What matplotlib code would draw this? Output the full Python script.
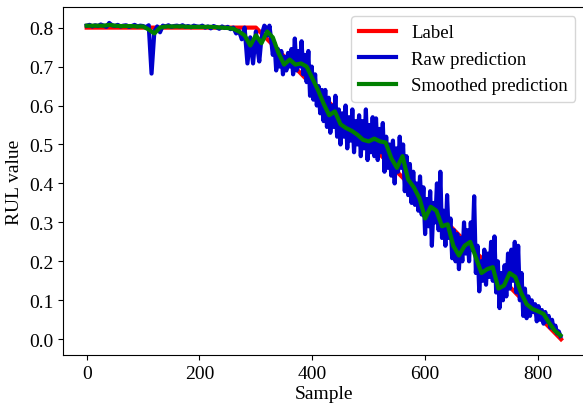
import numpy as np
import matplotlib
matplotlib.use("Agg")
import matplotlib.pyplot as plt

plt.rcParams['font.family'] = ['Liberation Serif', 'DejaVu Serif']

# piecewise RUL label (vertices)
label_x = [0, 300, 841]
label_y = [0.80, 0.80, 0.0]

# raw network output: every 5 samples on the plateau, every 3 samples afterwards
raw_x = list(range(0, 300, 5)) + list(range(300, 841, 3))
raw_y = [
    # plateau, 0 - 295
    0.805, 0.807, 0.803, 0.806, 0.804, 0.808, 0.805, 0.802, 0.812, 0.806, 0.804, 0.807, 0.803, 0.805, 0.806, 0.802, 0.804, 0.807, 0.803, 0.805,
    0.804, 0.801, 0.806, 0.682, 0.790, 0.803, 0.788, 0.805, 0.803, 0.806, 0.802, 0.804, 0.805, 0.803, 0.806, 0.802, 0.804, 0.801, 0.805, 0.803,
    0.802, 0.805, 0.800, 0.803, 0.798, 0.804, 0.801, 0.797, 0.803, 0.799, 0.802, 0.796, 0.800, 0.785, 0.792, 0.770, 0.800, 0.708, 0.775, 0.708,
    # degradation, 300 - 840
    0.790, 0.745, 0.713, 0.760, 0.790, 0.805, 0.800, 0.780, 0.805, 0.770,
    0.730, 0.760, 0.690, 0.745, 0.700, 0.740, 0.680, 0.725, 0.690, 0.735,
    0.700, 0.745, 0.680, 0.772, 0.690, 0.740, 0.700, 0.765, 0.680, 0.730,
    0.660, 0.740, 0.625, 0.700, 0.615, 0.680, 0.600, 0.650, 0.580, 0.640,
    0.560, 0.640, 0.545, 0.620, 0.530, 0.600, 0.545, 0.625, 0.520, 0.590,
    0.500, 0.580, 0.520, 0.600, 0.490, 0.570, 0.510, 0.590, 0.480, 0.560,
    0.500, 0.575, 0.470, 0.560, 0.490, 0.590, 0.460, 0.550, 0.480, 0.570,
    0.470, 0.567, 0.460, 0.540, 0.480, 0.555, 0.430, 0.520, 0.440, 0.500,
    0.420, 0.510, 0.400, 0.490, 0.430, 0.520, 0.440, 0.500, 0.380, 0.470,
    0.370, 0.450, 0.350, 0.430, 0.345, 0.400, 0.330, 0.418, 0.320, 0.390,
    0.270, 0.360, 0.290, 0.380, 0.240, 0.350, 0.300, 0.400, 0.280, 0.430,
    0.260, 0.330, 0.240, 0.370, 0.260, 0.310, 0.208, 0.280, 0.200, 0.270,
    0.180, 0.260, 0.200, 0.300, 0.220, 0.280, 0.200, 0.300, 0.230, 0.367,
    0.170, 0.240, 0.123, 0.200, 0.150, 0.230, 0.140, 0.220, 0.160, 0.250,
    0.150, 0.264, 0.120, 0.200, 0.080, 0.170, 0.100, 0.190, 0.110, 0.220,
    0.130, 0.230, 0.150, 0.250, 0.120, 0.240, 0.100, 0.170, 0.060, 0.130,
    0.054, 0.110, 0.060, 0.100, 0.070, 0.090, 0.046, 0.085, 0.050, 0.075,
    0.040, 0.070, 0.045, 0.060, 0.030, 0.050, 0.025, 0.035, 0.015, 0.020,
    0.008,
]

# smoothed output, every 10 samples
smooth_x = list(range(0, 841, 10))
smooth_y = [
    0.805, 0.805, 0.805, 0.805, 0.807, 0.805, 0.804, 0.804, 0.804, 0.803,
    0.803, 0.795, 0.785, 0.800, 0.803, 0.803, 0.803, 0.803, 0.802, 0.802,
    0.802, 0.802, 0.802, 0.801, 0.800, 0.799, 0.797, 0.790, 0.780, 0.754,
    0.780, 0.760, 0.790, 0.775, 0.735, 0.705, 0.718, 0.705, 0.708, 0.700,
    0.670, 0.640, 0.605, 0.575, 0.585, 0.552, 0.542, 0.535, 0.525, 0.512,
    0.508, 0.515, 0.508, 0.505, 0.465, 0.440, 0.470, 0.410, 0.390, 0.362,
    0.310, 0.340, 0.330, 0.290, 0.295, 0.240, 0.215, 0.240, 0.250, 0.210,
    0.170, 0.180, 0.185, 0.130, 0.138, 0.170, 0.160, 0.120, 0.090, 0.078,
    0.072, 0.065, 0.042, 0.022, 0.010,
]

fig = plt.figure(figsize=(5.83, 4.06), dpi=100)
ax = fig.add_axes([0.108, 0.123, 0.895, 0.857])

ax.plot(label_x, label_y, color='red', linewidth=3, label='Label')
ax.plot(raw_x, raw_y, color='mediumblue', linewidth=3, label='Raw prediction')
ax.plot(smooth_x, smooth_y, color='green', linewidth=3, label='Smoothed prediction')

ax.set_xticks([0, 200, 400, 600, 800])
ax.set_yticks(np.arange(0, 0.81, 0.1))
ax.set_yticklabels(['0.0', '0.1', '0.2', '0.3', '0.4', '0.5', '0.6', '0.7', '0.8'])
ax.tick_params(labelsize=14)
ax.set_xlabel('Sample', fontsize=14, labelpad=2)
ax.set_ylabel('RUL value', fontsize=14)
ax.legend(loc='upper right', fontsize=13.5)

fig.savefig('out.png', dpi=100)
